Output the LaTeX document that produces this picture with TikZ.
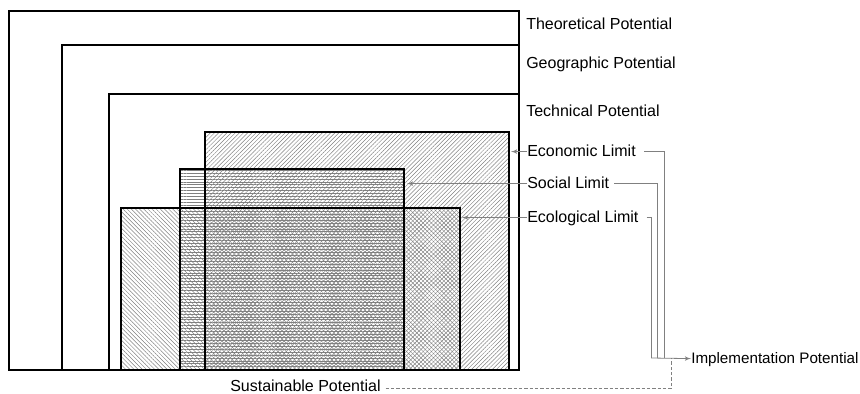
\documentclass[tikz,border=0pt]{standalone}
\usepackage{fontspec}
\setmainfont{Liberation Sans}
\usepackage{tikz}
\usetikzlibrary{arrows,patterns.meta}

\begin{document}
\begin{tikzpicture}[x=0.75pt,y=-0.75pt]
    \tikzset{
        frame/.style={draw, line width=1.5pt},
        hatch/.style={pattern={Lines[angle=#1,distance=2.2pt,line width=0.35pt]}, pattern color=gray},
        lbl/.style={inner sep=0pt, anchor=base west, font=\fontsize{12}{14}\selectfont, text height=1.5ex, text depth=0.25ex},
        route/.style={draw, gray, line width=0.6pt},
        pointer/.style={route, -latex'},
    };
    \useasboundingbox (0,0) rectangle (860,393);

    \path [hatch=45] (205,132) rectangle (509,370);
    \path [hatch=0] (180,169) rectangle (404,370);
    \path [hatch=135] (121,208) rectangle (460,370);

    \draw [frame] (9,11) rectangle (519,370);
    \draw [frame] (62,45) rectangle (519,370);
    \draw [frame] (109,94) rectangle (519,370);
    \draw [frame] (205,132) rectangle (509,370);
    \draw [frame] (180,169) rectangle (404,370);
    \draw [frame] (121,208) rectangle (460,370);

    \node [lbl] (theo) at (526,29) {Theoretical Potential};
    \node [lbl] (geo) at (526,68) {Geographic Potential};
    \node [lbl] (tech) at (526,116) {Technical Potential};
    \node [lbl] (econlbl) at (527,156) {Economic Limit};
    \node [lbl] (soclbl) at (527,188) {Social Limit};
    \node [lbl] (ecollbl) at (527,222) {Ecological Limit};
    \node [lbl, font=\fontsize{11.4}{14}\selectfont] (impl) at (691,363) {Implementation Potential};
    \node [lbl, text depth=0pt] (sust) at (230,391) {Sustainable Potential};

    \coordinate (econ-e) at (511,150);
    \coordinate (soc-e) at (407,183);
    \coordinate (ecol-e) at (462,216);
    \coordinate (econ-down) at (664,358);
    \coordinate (soc-down) at (657,358);
    \coordinate (ecol-down) at (651,358);
    \coordinate (sust-up) at (671,358);

    \path [pointer] (econlbl.west) -- (econlbl.west -| econ-e);
    \path [pointer] (soclbl.west) -- (soclbl.west -| soc-e);
    \path [pointer] (ecollbl.west) -- (ecollbl.west -| ecol-e);

    \path [route, shorten <=6pt] (econlbl.east) -| (econ-down);
    \path [route, shorten <=3.5pt] (soclbl.east) -| (soc-down);
    \path [route, shorten <=6pt] (ecollbl.east) -| (ecol-down);
    \path [pointer] (ecol-down) -- (impl.west);
    \path [route, dash pattern=on 2.5pt off 1.5pt, shorten <=3.5pt] ([yshift=1.8pt]sust.base east) -| (sust-up);
\end{tikzpicture}
\end{document}
